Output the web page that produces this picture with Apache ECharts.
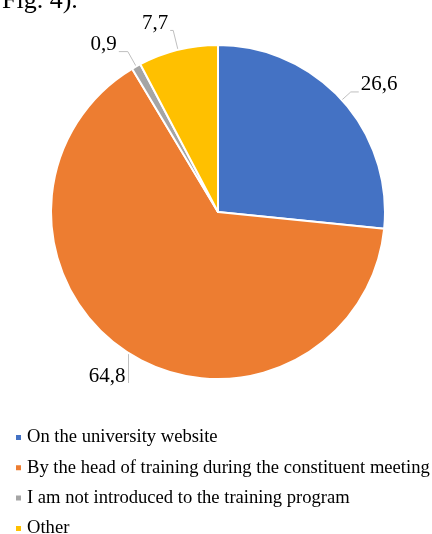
<!DOCTYPE html>
<html>
<head>
<meta charset="utf-8">
<script src="https://cdn.jsdelivr.net/npm/echarts@6/dist/echarts.min.js"></script>
<style>html,body{margin:0;padding:0;background:#fff;}#c{width:432px;height:534px;}</style>
</head>
<body>
<div id="c"></div>
<script>
const categories = ["On the university website", "By the head of training during the constituent meeting", "I am not introduced to the training program", "Other"];
const values = [26.6, 64.8, 0.9, 7.7];
const colors = ["#4472C4", "#ED7D31", "#A5A5A5", "#FFC000"];
const lineLen = [12, 30, 17, 20];
const lineLen2 = [8, 0, 9, 3];

const chart = echarts.init(document.getElementById('c'));
chart.setOption({
  animation: false,
  color: colors,
  graphic: [{
    type: 'text', left: 2, top: -12,
    style: { text: 'Fig. 4).', font: '26px "Liberation Serif"', fill: '#000' }
  }],
  legend: {
    orient: 'vertical', left: 14, top: 428, height: 150, padding: 0,
    icon: 'rect', itemWidth: 7, itemHeight: 7, itemGap: 11.3,
    textStyle: { fontFamily: 'Liberation Serif', fontSize: 18.6, color: '#000', lineHeight: 19 },
    data: categories
  },
  series: [{
    type: 'pie',
    center: [218, 212],
    radius: [0, 167],
    startAngle: 90,
    clockwise: true,
    avoidLabelOverlap: false,
    data: categories.map((c, i) => ({ name: c, value: values[i], labelLine: { length: lineLen[i], length2: lineLen2[i] } })),
    itemStyle: { borderColor: '#fff', borderWidth: 2 },
    label: {
      show: true, position: 'outside', distanceToLabelLine: 2,
      formatter: p => '{v|' + String(p.value).replace('.', ',') + '}\n{s|}',
      rich: {
        v: { fontFamily: 'Liberation Serif', fontSize: 21, color: '#000', lineHeight: 21 },
        s: { height: 14, lineHeight: 14, fontSize: 1 }
      }
    },
    labelLine: { show: true, lineStyle: { color: '#BFBFBF', width: 1 } },
    labelLayout: function (p) {
      if (p.dataIndex === 1 && p.labelLinePoints) {
        const p0 = p.labelLinePoints[0];
        const end = [p0[0], p0[1] + 30];
        return {
          x: p0[0] - 3,
          y: end[1],
          align: 'right',
          verticalAlign: 'middle',
          labelLinePoints: [p0, end, end]
        };
      }
      return {};
    }
  }]
});
</script>
</body>
</html>
